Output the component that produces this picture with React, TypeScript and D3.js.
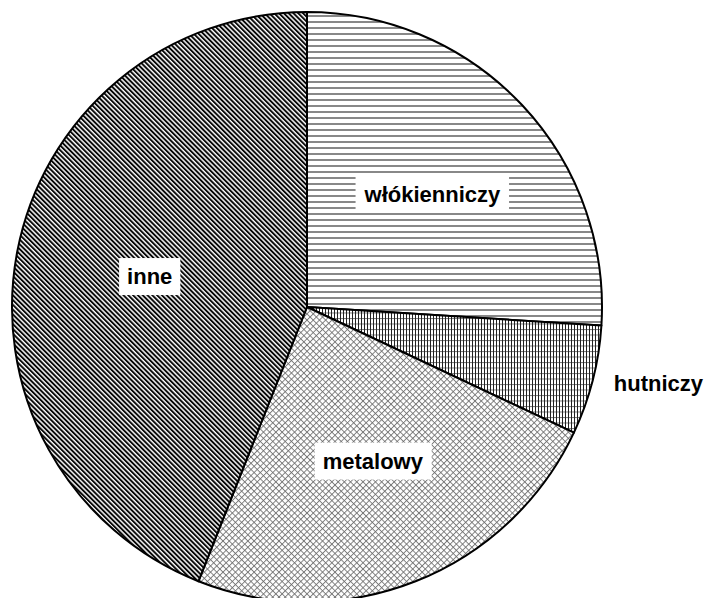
import * as d3 from "d3";
import { useEffect, useRef } from "react";

const CATEGORIES = ["włókienniczy", "hutniczy", "metalowy", "inne"];
const VALUES = [26, 6, 24, 44];
const PATTERNS = ["horiz", "grid", "cross", "diag"];
const OUTSIDE = [false, true, false, false];

const WIDTH = 709;
const HEIGHT = 598;

const App = () => {
	const svgRef = useRef(null);

	useEffect(() => {
		const cx = 307;
		const cy = 307;
		const radius = 295;

		const svgEl = d3.select(svgRef.current);
		svgEl.selectAll("*").remove();

		// Fill patterns, similar to the old Excel hatch fills
		const defs = svgEl.append("defs");

		const horiz = defs
			.append("pattern")
			.attr("id", "horiz")
			.attr("patternUnits", "userSpaceOnUse")
			.attr("width", 8)
			.attr("height", 6);
		horiz.append("rect").attr("width", 8).attr("height", 6).attr("fill", "#fff");
		horiz
			.append("line")
			.attr("x1", 0)
			.attr("x2", 8)
			.attr("y1", 3)
			.attr("y2", 3)
			.attr("stroke", "#6a6a6a")
			.attr("stroke-width", 1.6);

		const grid = defs
			.append("pattern")
			.attr("id", "grid")
			.attr("patternUnits", "userSpaceOnUse")
			.attr("width", 3)
			.attr("height", 5.5);
		grid.append("rect").attr("width", 3).attr("height", 5.5).attr("fill", "#fff");
		grid
			.append("path")
			.attr("d", "M0,0.5H3")
			.attr("stroke", "#777")
			.attr("stroke-width", 1);
		grid
			.append("path")
			.attr("d", "M0.5,0V5.5")
			.attr("stroke", "#222")
			.attr("stroke-width", 1);

		const cross = defs
			.append("pattern")
			.attr("id", "cross")
			.attr("patternUnits", "userSpaceOnUse")
			.attr("patternTransform", "rotate(45)")
			.attr("width", 4.4)
			.attr("height", 4.4);
		cross.append("rect").attr("width", 4.4).attr("height", 4.4).attr("fill", "#fff");
		cross
			.append("path")
			.attr("d", "M0,0.5H4.4M0.5,0V4.4")
			.attr("stroke", "#6e6e6e")
			.attr("stroke-width", 0.85);

		const diag = defs
			.append("pattern")
			.attr("id", "diag")
			.attr("patternUnits", "userSpaceOnUse")
			.attr("patternTransform", "rotate(-45)")
			.attr("width", 3.4)
			.attr("height", 10);
		diag.append("rect").attr("width", 3.4).attr("height", 10).attr("fill", "#fff");
		diag
			.append("line")
			.attr("x1", 1)
			.attr("x2", 1)
			.attr("y1", 0)
			.attr("y2", 10)
			.attr("stroke", "#000")
			.attr("stroke-width", 1.9);

		const svg = svgEl
			.append("g")
			.attr("transform", `translate(${cx},${cy})`);

		const pie = d3
			.pie()
			.sort(null)
			.value((d) => d.value);
		const arcs = pie(
			CATEGORIES.map((name, i) => ({ name, value: VALUES[i], i }))
		);

		const arc = d3.arc().innerRadius(0).outerRadius(radius);
		const innerLabel = d3
			.arc()
			.innerRadius(radius * 0.56)
			.outerRadius(radius * 0.56);
		const outerLabel = d3
			.arc()
			.innerRadius(radius * 1.23)
			.outerRadius(radius * 1.23);

		svg.selectAll(".slice")
			.data(arcs)
			.enter()
			.append("path")
			.attr("d", arc)
			.attr("fill", (d) => `url(#${PATTERNS[d.data.i]})`)
			.attr("stroke", "#000")
			.attr("stroke-width", 2)
			.attr("stroke-linejoin", "round");

		// Labels: white box behind the inside ones
		arcs.forEach((d) => {
			const outside = OUTSIDE[d.data.i];
			const [x, y] = (outside ? outerLabel : innerLabel).centroid(d);
			const g = svg
				.append("g")
				.attr("transform", `translate(${outside ? x : x + 5},${y})`);
			const rect = g.append("rect").attr("fill", "#fff");
			const text = g
				.append("text")
				.attr("text-anchor", "middle")
				.attr("y", outside ? -6 : 8)
				.attr("font-family", "'Liberation Sans', Arial, sans-serif")
				.attr("font-weight", "bold")
				.attr("font-size", 22)
				.attr("fill", "#000")
				.text(d.data.name);
			if (outside) {
				rect.remove();
				return;
			}
			const box = text.node().getBBox();
			rect.attr("x", box.x - 8)
				.attr("y", box.y - 6)
				.attr("width", box.width + 16)
				.attr("height", box.height + 12);
		});
	}, []);

	return (
		<svg
			ref={svgRef}
			width={WIDTH}
			height={HEIGHT}
			style={{ position: "absolute", left: 0, top: 0, background: "#fff" }}
		/>
	);
};

export default App;
